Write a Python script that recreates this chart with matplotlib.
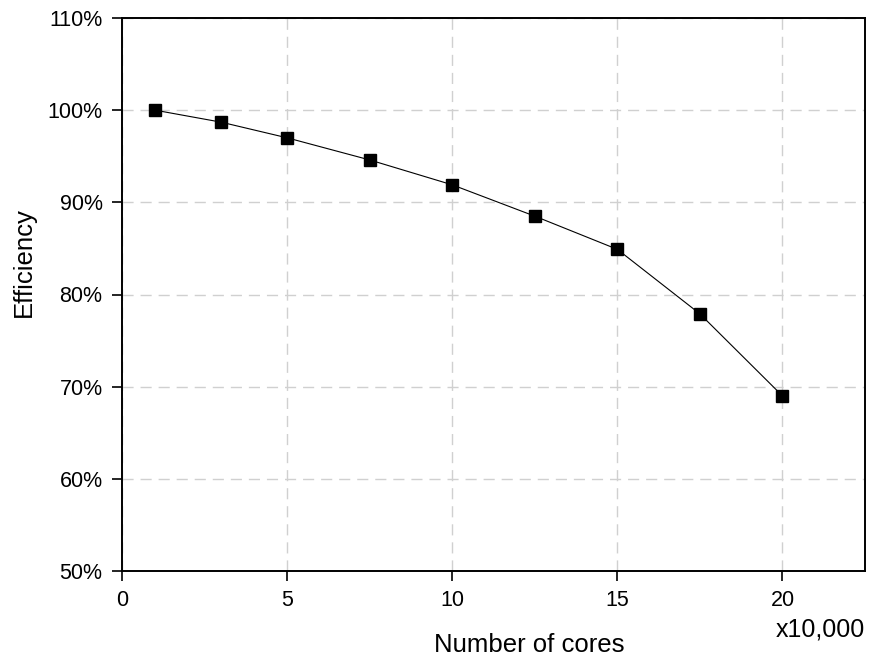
import matplotlib
matplotlib.use('Agg')
import matplotlib.pyplot as plt
from matplotlib.ticker import FuncFormatter

plt.rcParams['font.family'] = ['Liberation Sans', 'DejaVu Sans']

cores = [1, 3, 5, 7.5, 10, 12.5, 15, 17.5, 20]
efficiency = [100.0, 98.7, 97.0, 94.6, 91.9, 88.5, 84.9, 77.9, 69.0]

fig = plt.figure(figsize=(8.75, 6.64), dpi=100)
ax = fig.add_axes([122 / 875, 1 - 571 / 664, (865 - 122) / 875, (571 - 18) / 664])

ax.plot(cores, efficiency, color='black', linewidth=0.8, marker='s', markersize=8,
        markerfacecolor='black', markeredgecolor='black', zorder=3)

ax.set_xlim(0, 22.5)
ax.set_ylim(50, 110)
ax.set_xticks([0, 5, 10, 15, 20])
ax.set_yticks(range(50, 111, 10))
ax.yaxis.set_major_formatter(FuncFormatter(lambda v, p: '%d%%' % v))
ax.tick_params(direction='out', length=7, width=1.2, labelsize=15.5, colors='black', pad=7)
for s in ax.spines.values():
    s.set_linewidth(1.4)
ax.grid(True, color='#d0d0d0', linestyle=(0, (8, 5)), linewidth=1)
ax.set_axisbelow(True)

ax.set_ylabel('Efficiency', fontsize=18.5)
ax.yaxis.set_label_coords(-0.116, 0.559)
ax.set_xlabel('Number of cores', fontsize=18.5)
ax.xaxis.set_label_coords(0.5475, -0.113)
ax.text(1.0, -0.106, 'x10,000', transform=ax.transAxes, ha='right', va='center', fontsize=18)

fig.savefig('out.png', dpi=100)
